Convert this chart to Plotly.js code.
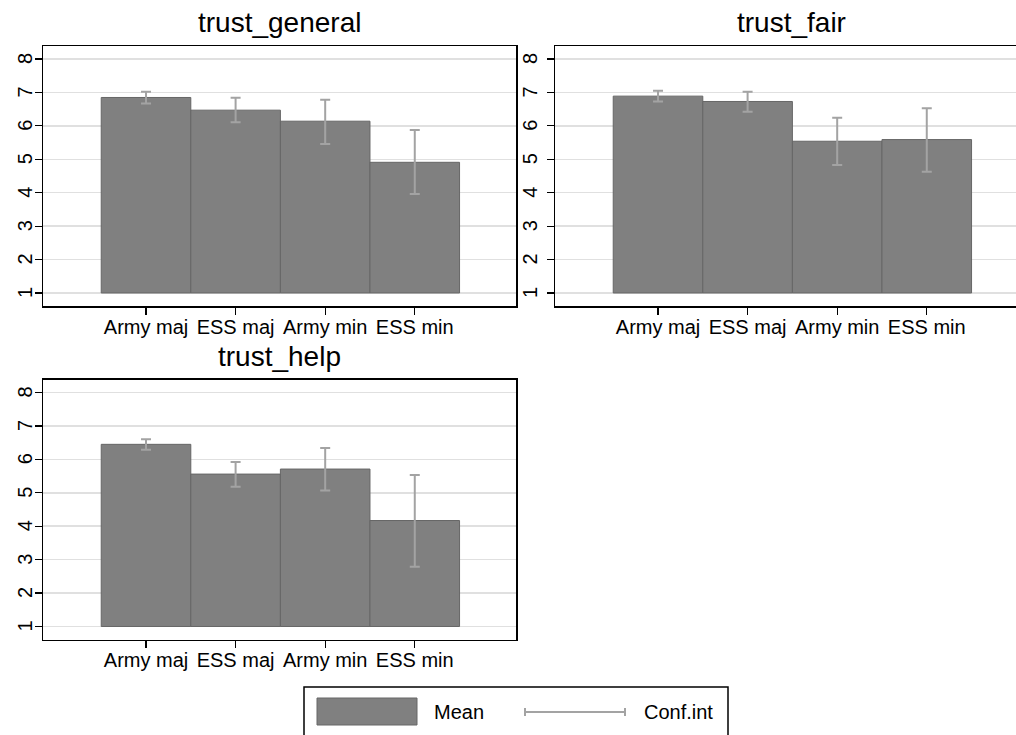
<!DOCTYPE html>
<html>
<head>
<meta charset="utf-8">
<script src="https://cdn.plot.ly/plotly-3.0.1.min.js"></script>
<style>
html,body{margin:0;padding:0;overflow:hidden;background:#fff;}
#chart{width:1030px;height:735px;}
</style>
</head>
<body>
<div id="chart"></div>
<script>
// ---- data ----
const categories = ["Army maj", "ESS maj", "Army min", "ESS min"];
const panelTitles = ["trust_general", "trust_fair", "trust_help"];

const generalMean = [6.85, 6.47, 6.14, 4.91];
const generalLow  = [6.67, 6.11, 5.46, 3.96];
const generalHigh = [7.02, 6.84, 6.78, 5.88];

const fairMean = [6.89, 6.73, 5.54, 5.59];
const fairLow  = [6.73, 6.42, 4.83, 4.63];
const fairHigh = [7.05, 7.02, 6.24, 6.53];

const helpMean = [6.45, 5.56, 5.71, 4.17];
const helpLow  = [6.29, 5.18, 5.07, 2.79];
const helpHigh = [6.60, 5.92, 6.34, 5.53];

const yTicks = [1, 2, 3, 4, 5, 6, 7, 8];
const barBase = 1;
const legendLabels = ["Mean", "Conf.int"];

// ---- layout helpers ----
const W = 1030, H = 735;
const FONT = "Liberation Sans, Arial, sans-serif";
const BAR_FILL = "#808080", BAR_LINE = "#666666", CI_COLOR = "#a3a3a3";
const px = x => x / W;
const py = y => 1 - y / H;

const panels = [
  {mean: generalMean, lo: generalLow, hi: generalHigh, xa: "x",  ya: "y",  x0: 43,  x1: 516,  y0: 46,    y1: 306,   lab: 25},
  {mean: fairMean,    lo: fairLow,    hi: fairHigh,    xa: "x2", ya: "y2", x0: 555, x1: 1028, y0: 46,    y1: 306,   lab: 530},
  {mean: helpMean,    lo: helpLow,    hi: helpHigh,    xa: "x3", ya: "y3", x0: 43,  x1: 516,  y0: 379.5, y1: 639.5, lab: 25}
];

const data = [];
const layout = {
  width: W, height: H,
  margin: {l: 0, r: 0, t: 0, b: 0},
  paper_bgcolor: "#fff", plot_bgcolor: "#fff",
  showlegend: false,
  barmode: "overlay",
  bargap: 0,
  font: {family: FONT, color: "#000", size: 20},
  annotations: [],
  shapes: []
};

panels.forEach((p, i) => {
  data.push({
    type: "bar", x: categories, y: p.mean.map(v => v - barBase), base: barBase,
    xaxis: p.xa, yaxis: p.ya, width: 1,
    marker: {color: BAR_FILL, line: {color: BAR_LINE, width: 1}},
    hoverinfo: "skip"
  });
  data.push({
    type: "scatter", mode: "markers", x: categories, y: p.mean,
    xaxis: p.xa, yaxis: p.ya,
    marker: {opacity: 0, size: 1},
    error_y: {type: "data", symmetric: false,
      array: p.hi.map((h, k) => h - p.mean[k]),
      arrayminus: p.lo.map((l, k) => p.mean[k] - l),
      color: CI_COLOR, thickness: 2, width: 5},
    hoverinfo: "skip"
  });
  const n = i === 0 ? "" : String(i + 1);
  layout["xaxis" + n] = {
    domain: [px(p.x0), px(p.x1)], anchor: p.ya, type: "category",
    range: [-1.15, 4.13], showgrid: false, zeroline: false,
    showline: true, mirror: true, linecolor: "#000", linewidth: 1.5,
    ticks: "outside", ticklen: 7, tickwidth: 1.2, tickcolor: "#000",
    ticklabelstandoff: -5,
    tickfont: {family: FONT, size: 20, color: "#000"}, fixedrange: true
  };
  layout["yaxis" + n] = {
    domain: [py(p.y1), py(p.y0)], anchor: p.xa,
    range: [0.61, 8.39], tickvals: yTicks, showticklabels: false,
    showgrid: true, gridcolor: "#e0e0e0", gridwidth: 1.5,
    zeroline: false, showline: true, mirror: true, linecolor: "#000", linewidth: 1.5,
    ticks: "outside", ticklen: 7, tickwidth: 1.2, tickcolor: "#000",
    fixedrange: true
  };
  // rotated y tick labels, placed on the axis scale
  yTicks.forEach(v => {
    layout.annotations.push({
      text: String(v), showarrow: false, textangle: -90,
      xref: "paper", yref: p.ya, x: px(p.lab), y: v,
      xanchor: "center", yanchor: "middle",
      font: {family: FONT, size: 20, color: "#000"}
    });
  });
  layout.annotations.push({
    text: panelTitles[i], showarrow: false,
    xref: "paper", yref: "paper",
    x: px((p.x0 + p.x1) / 2), y: py(p.y0 - 6),
    xanchor: "center", yanchor: "bottom",
    font: {family: FONT, size: 28, color: "#000"}
  });
});

// ---- legend (drawn with shapes + annotations) ----
layout.shapes.push(
  {type: "rect", xref: "paper", yref: "paper", x0: px(304), x1: px(728), y0: py(745), y1: py(687),
   line: {color: "#000", width: 1.5}, fillcolor: "#fff", layer: "below"},
  {type: "rect", xref: "paper", yref: "paper", x0: px(317), x1: px(417), y0: py(725), y1: py(698),
   line: {color: BAR_LINE, width: 1}, fillcolor: BAR_FILL},
  {type: "line", xref: "paper", yref: "paper", x0: px(525), x1: px(625), y0: py(712), y1: py(712),
   line: {color: CI_COLOR, width: 2}},
  {type: "line", xref: "paper", yref: "paper", x0: px(525), x1: px(525), y0: py(708), y1: py(716),
   line: {color: CI_COLOR, width: 2}},
  {type: "line", xref: "paper", yref: "paper", x0: px(625), x1: px(625), y0: py(708), y1: py(716),
   line: {color: CI_COLOR, width: 2}}
);
layout.annotations.push(
  {text: legendLabels[0], showarrow: false, xref: "paper", yref: "paper",
   x: px(432), y: py(712), xanchor: "left", yanchor: "middle",
   font: {family: FONT, size: 20, color: "#000"}},
  {text: legendLabels[1], showarrow: false, xref: "paper", yref: "paper",
   x: px(642), y: py(712), xanchor: "left", yanchor: "middle",
   font: {family: FONT, size: 20, color: "#000"}}
);

Plotly.newPlot("chart", data, layout, {staticPlot: true, displayModeBar: false});
</script>
</body>
</html>
